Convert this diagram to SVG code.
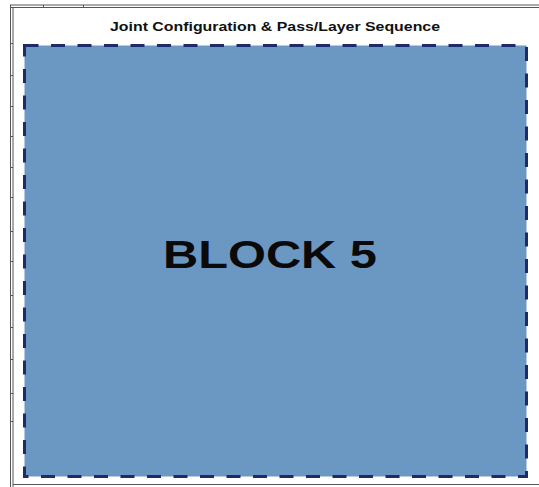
<svg xmlns="http://www.w3.org/2000/svg" width="539" height="487" viewBox="0 0 539 487">
<style>
.frame{stroke:#555555;stroke-width:1;fill:none}
.tick{stroke:#555;stroke-width:1}
.title{font-family:"Liberation Sans",Arial,sans-serif;font-weight:bold;font-size:12px;fill:#111}
.label{font-family:"Liberation Sans",Arial,sans-serif;font-weight:bold;font-size:38px;fill:#0a0a0a}
</style>
<rect width="539" height="487" fill="#ffffff"/>
<g id="frame">
<line class="frame" x1="10" y1="5" x2="539" y2="5"/>
<line class="frame" x1="10" y1="7.5" x2="539" y2="7.5"/>
<line class="frame" x1="10.5" y1="5" x2="10.5" y2="487"/>
<line class="frame" x1="13" y1="7.5" x2="13" y2="487"/>
<line class="frame" x1="13" y1="484.5" x2="539" y2="484.5"/>
<line class="tick" x1="43.5" y1="5" x2="43.5" y2="8"/>
<line class="tick" x1="83.5" y1="5" x2="83.5" y2="8"/>
<g class="tick">
<line x1="10" y1="43.5" x2="13" y2="43.5"/>
<line x1="10" y1="75.5" x2="13" y2="75.5"/>
<line x1="10" y1="106.5" x2="13" y2="106.5"/>
<line x1="10" y1="136.5" x2="13" y2="136.5"/>
<line x1="10" y1="167.5" x2="13" y2="167.5"/>
<line x1="10" y1="197.5" x2="13" y2="197.5"/>
<line x1="10" y1="231.5" x2="13" y2="231.5"/>
<line x1="10" y1="261.5" x2="13" y2="261.5"/>
<line x1="10" y1="295.5" x2="13" y2="295.5"/>
<line x1="10" y1="327.5" x2="13" y2="327.5"/>
<line x1="10" y1="359.5" x2="13" y2="359.5"/>
<line x1="10" y1="393.5" x2="13" y2="393.5"/>
<line x1="10" y1="421.5" x2="13" y2="421.5"/>
</g>
</g>
<text class="title" x="275" y="31" text-anchor="middle" textLength="330" lengthAdjust="spacingAndGlyphs">Joint Configuration &amp; Pass/Layer Sequence</text>
<g id="block5">
<rect x="24.5" y="45.5" width="502" height="431" fill="#6a98c2" stroke="#1f2a6b" stroke-width="3" stroke-dasharray="14 12.5"/>
<text class="label" x="270" y="268" text-anchor="middle" textLength="214" lengthAdjust="spacingAndGlyphs">BLOCK 5</text>
</g>
</svg>
